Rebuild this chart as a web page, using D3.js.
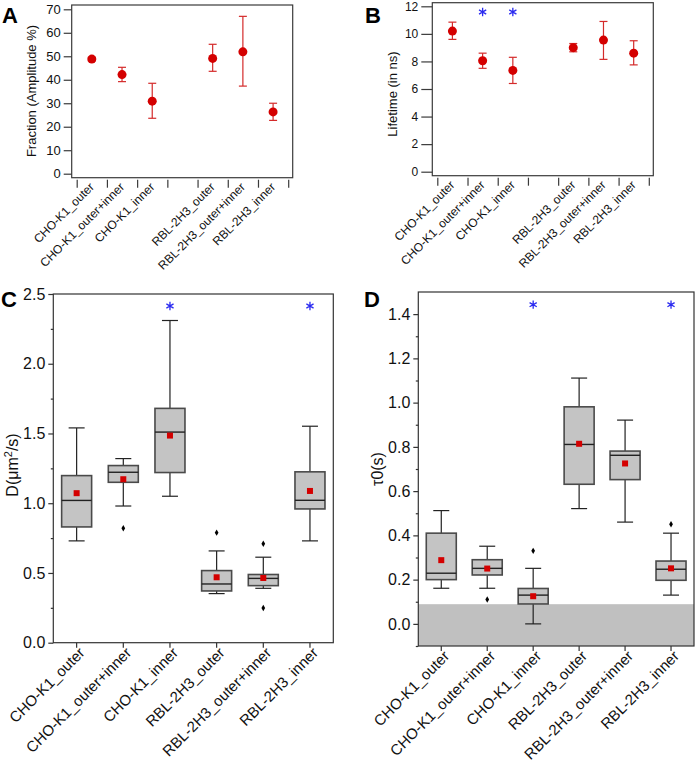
<!DOCTYPE html>
<html>
<head>
<meta charset="utf-8">
<script src="https://cdn.jsdelivr.net/npm/d3@7"></script>
<style>
  html, body { margin: 0; padding: 0; background: #fff; }
  svg { display: block; font-family: "Liberation Sans", Arial, sans-serif; }
</style>
</head>
<body>
<svg id="chart" width="697" height="770"></svg>
<script>
// ---------------- DATA ----------------
const categories = ["CHO-K1_outer", "CHO-K1_outer+inner", "CHO-K1_inner",
                    "RBL-2H3_outer", "RBL-2H3_outer+inner", "RBL-2H3_inner"];

// Panel A: Fraction (Amplitude %)
const fracMean = [48.8, 42.2, 30.9, 49.1, 51.9, 26.3];
const fracLow  = [48.0, 39.2, 23.6, 43.6, 37.3, 22.7];
const fracHigh = [49.6, 45.3, 38.5, 55.1, 67.0, 30.0];
const fracTicks = [0, 10, 20, 30, 40, 50, 60, 70];

// Panel B: Lifetime (in ns)
const lifeMean = [10.2, 8.05, 7.35, 9.0, 9.55, 8.6];
const lifeLow  = [9.6, 7.5, 6.4, 8.7, 8.15, 7.75];
const lifeHigh = [10.85, 8.6, 8.3, 9.3, 10.9, 9.5];
const lifeTicks = [0, 2, 4, 6, 8, 10, 12];
const lifeStars = ["CHO-K1_outer+inner", "CHO-K1_inner"];

// Panel C: D (um^2/s) box plots
const dWhiskLow  = [0.73, 0.98, 1.05, 0.352, 0.39, 0.73];
const dQ1        = [0.83, 1.15, 1.22, 0.371, 0.409, 0.959];
const dMedian    = [1.02, 1.222, 1.51, 0.421, 0.461, 1.021];
const dQ3        = [1.198, 1.27, 1.68, 0.517, 0.489, 1.225];
const dWhiskHigh = [1.54, 1.32, 2.31, 0.658, 0.613, 1.552];
const dMean      = [1.072, 1.172, 1.485, 0.469, 0.464, 1.088];
const dOutliers  = [[], [0.82], [], [0.789], [0.71, 0.249], []];
const dTicks = [0.0, 0.5, 1.0, 1.5, 2.0, 2.5];
const dStars = ["CHO-K1_inner", "RBL-2H3_inner"];

// Panel D: tau0 (s) box plots
const tWhiskLow  = [0.161, 0.161, 0.0, 0.521, 0.46, 0.13];
const tQ1        = [0.2, 0.221, 0.09, 0.631, 0.652, 0.197];
const tMedian    = [0.229, 0.251, 0.13, 0.811, 0.762, 0.247];
const tQ3        = [0.41, 0.29, 0.16, 0.981, 0.781, 0.284];
const tWhiskHigh = [0.512, 0.351, 0.251, 1.111, 0.921, 0.41];
const tMean      = [0.288, 0.25, 0.125, 0.814, 0.725, 0.251];
const tOutliers  = [[], [0.11], [0.33], [], [], [0.45]];
const tTicks = [0.0, 0.2, 0.4, 0.6, 0.8, 1.0, 1.2, 1.4];
const tBand = [-0.1, 0.089];
const tStars = ["CHO-K1_inner", "RBL-2H3_inner"];

// ---------------- DRAWING ----------------
const svg = d3.select("#chart");
const RED = "#d40000", RED_ERR = "#d42a2a", BLUE = "#2a2af0";

function star(g, x, y) {
  g.append("path")
    .attr("transform", `translate(${x},${y})`)
    .attr("d", d3.symbol(d3.symbolAsterisk, 48)())
    .attr("fill", "none").attr("stroke", BLUE).attr("stroke-width", 1.3);
}

// ---- Error-bar panels (A, B) ----
function errorPanel(opt) {
  const g = svg.append("g");
  const { left, right, top, bottom } = opt;
  // slots: 7 slots with an empty one between cell lines
  const slotOf = i => (i < 3 ? i : i + 1);
  const x = d3.scaleLinear().domain([0, 7]).range([left + 5, right - 4.5]);
  const y = d3.scaleLinear().domain(opt.domain).range([opt.y0, opt.yTop]);

  g.append("rect").attr("x", left).attr("y", top)
    .attr("width", right - left).attr("height", bottom - top)
    .attr("fill", "none").attr("stroke", "#3a3a3a").attr("stroke-width", 1.2);

  // y axis
  const ya = g.append("g").attr("transform", `translate(${left},0)`)
    .call(d3.axisLeft(y).tickValues(opt.ticks).tickSize(opt.tickLen).tickPadding(3).tickFormat(d3.format("d")));
  ya.select(".domain").remove();
  ya.selectAll("line").attr("stroke", "#3a3a3a").attr("stroke-width", 1.2);
  ya.selectAll("text").attr("font-size", opt.tickFont).attr("fill", "#111")
    .attr("font-family", "Liberation Sans, Arial, sans-serif");

  // x ticks at slot boundaries
  const xa = g.append("g").attr("transform", `translate(0,${bottom + 2})`)
    .call(d3.axisBottom(x).tickValues(d3.range(0, 8)).tickSize(8).tickFormat(""));
  xa.select(".domain").remove();
  xa.selectAll("line").attr("stroke", "#3a3a3a").attr("stroke-width", 1.2);

  // x labels
  categories.forEach((c, i) => {
    const cx = x(slotOf(i) + 0.5);
    g.append("text")
      .attr("transform", `translate(${cx + 3},${bottom + 10}) rotate(-45)`)
      .attr("text-anchor", "end").attr("font-size", 12).attr("fill", "#111")
      .text(c);
  });

  // error bars + points
  categories.forEach((c, i) => {
    const cx = x(slotOf(i) + 0.5);
    const lo = y(opt.low[i]), hi = y(opt.high[i]);
    g.append("line").attr("x1", cx).attr("x2", cx).attr("y1", lo).attr("y2", hi)
      .attr("stroke", RED_ERR).attr("stroke-width", 1.2);
    [lo, hi].forEach(v => g.append("line").attr("x1", cx - 4).attr("x2", cx + 4)
      .attr("y1", v).attr("y2", v).attr("stroke", RED_ERR).attr("stroke-width", 1.2));
    g.append("circle").attr("cx", cx).attr("cy", y(opt.mean[i])).attr("r", 4.5).attr("fill", RED);
  });

  (opt.stars || []).forEach(s => {
    const i = categories.indexOf(s);
    star(g, x(slotOf(i) + 0.5), opt.starY);
  });

  // y label
  g.append("text")
    .attr("transform", `translate(${opt.labelX},${opt.labelY}) rotate(-90)`)
    .attr("text-anchor", "middle").attr("font-size", 13).attr("fill", "#111")
    .text(opt.yLabel);
  // panel letter
  g.append("text").attr("x", opt.letterX).attr("y", opt.letterY)
    .attr("font-size", 22).attr("font-weight", "bold").attr("fill", "#000")
    .text(opt.letter);
}

errorPanel({
  left: 71.7, right: 292.7, top: 5, bottom: 177.7,
  domain: [0, 70], y0: 173.7, yTop: 9.3, ticks: fracTicks, tickLen: 8, tickFont: 13,
  mean: fracMean, low: fracLow, high: fracHigh,
  yLabel: "Fraction (Amplitude %)", labelX: 36, labelY: 91,
  letter: "A", letterX: 2, letterY: 23
});

errorPanel({
  left: 432.3, right: 653.3, top: 2.7, bottom: 175.7,
  domain: [0, 12], y0: 171.7, yTop: 6.3, ticks: lifeTicks, tickLen: 11, tickFont: 12,
  mean: lifeMean, low: lifeLow, high: lifeHigh, stars: lifeStars, starY: 12,
  yLabel: "Lifetime (in ns)", labelX: 397, labelY: 94,
  letter: "B", letterX: 365, letterY: 23
});

// ---- Box-plot panels (C, D) ----
function boxPanel(opt) {
  const g = svg.append("g");
  const { left, right, top, bottom } = opt;
  const x = d3.scaleBand().domain(categories).range([left, right]).padding(0);
  const y = d3.scaleLinear().domain(opt.domain).range([bottom, top]);
  const bw = 30, cap = 16;
  const cx = c => x(c) + x.bandwidth() / 2;

  if (opt.band) {
    g.append("rect").attr("x", left).attr("width", right - left)
      .attr("y", y(opt.band[1])).attr("height", y(opt.band[0]) - y(opt.band[1]))
      .attr("fill", "#c0c0c0");
  }

  g.append("rect").attr("x", left).attr("y", top)
    .attr("width", right - left).attr("height", bottom - top)
    .attr("fill", "none").attr("stroke", "#333").attr("stroke-width", 1.2);

  // y axis major
  const ya = g.append("g").attr("transform", `translate(${left},0)`)
    .call(d3.axisLeft(y).tickValues(opt.ticks).tickSize(5).tickPadding(3).tickFormat(d3.format(".1f")));
  ya.select(".domain").remove();
  ya.selectAll("line").attr("stroke", "#333").attr("stroke-width", 1.2);
  ya.selectAll("text").attr("font-size", 16).attr("fill", "#111")
    .attr("font-family", "Liberation Sans, Arial, sans-serif");
  // minor ticks
  const ym = g.append("g").attr("transform", `translate(${left},0)`)
    .call(d3.axisLeft(y).tickValues(opt.minor).tickSize(2.5).tickFormat(""));
  ym.select(".domain").remove();
  ym.selectAll("line").attr("stroke", "#333").attr("stroke-width", 1.2);

  // x axis
  const xa = g.append("g").attr("transform", `translate(0,${bottom})`)
    .call(d3.axisBottom(x).tickSize(5).tickFormat(""));
  xa.select(".domain").remove();
  xa.selectAll("line").attr("stroke", "#333").attr("stroke-width", 1.2);
  categories.forEach(c => {
    g.append("text")
      .attr("transform", `translate(${cx(c) + 9},${bottom + 11}) rotate(-45)`)
      .attr("text-anchor", "end").attr("font-size", 15).attr("fill", "#111")
      .text(c);
  });

  categories.forEach((c, i) => {
    const X = cx(c);
    const wl = y(opt.wlo[i]), wh = y(opt.whi[i]), q1 = y(opt.q1[i]), q3 = y(opt.q3[i]);
    // whiskers
    g.append("line").attr("x1", X).attr("x2", X).attr("y1", wh).attr("y2", q3)
      .attr("stroke", "#222").attr("stroke-width", 1.2);
    g.append("line").attr("x1", X).attr("x2", X).attr("y1", q1).attr("y2", wl)
      .attr("stroke", "#222").attr("stroke-width", 1.2);
    [wl, wh].forEach(v => g.append("line").attr("x1", X - cap / 2).attr("x2", X + cap / 2)
      .attr("y1", v).attr("y2", v).attr("stroke", "#222").attr("stroke-width", 1.2));
    // box
    g.append("rect").attr("x", X - bw / 2).attr("width", bw)
      .attr("y", q3).attr("height", q1 - q3)
      .attr("fill", "#c4c4c4").attr("stroke", "#4a4a4a").attr("stroke-width", 1.6);
    g.append("line").attr("x1", X - bw / 2).attr("x2", X + bw / 2)
      .attr("y1", y(opt.med[i])).attr("y2", y(opt.med[i]))
      .attr("stroke", "#222").attr("stroke-width", 1.4);
    // mean
    g.append("rect").attr("x", X - 3).attr("y", y(opt.mean[i]) - 3)
      .attr("width", 6).attr("height", 6).attr("fill", RED);
    // outliers
    opt.out[i].forEach(v => g.append("path")
      .attr("transform", `translate(${X},${y(v)})`)
      .attr("d", d3.symbol(d3.symbolDiamond, 12)()).attr("fill", "#000"));
  });

  opt.stars.forEach(s => star(g, cx(s), opt.starY));

  g.append("text")
    .attr("transform", `translate(${opt.labelX},${opt.labelY}) rotate(-90)`)
    .attr("text-anchor", "middle").attr("font-size", 16).attr("fill", "#111")
    .call(t => opt.yLabel(t));
  g.append("text").attr("x", opt.letterX).attr("y", opt.letterY)
    .attr("font-size", 22).attr("font-weight", "bold").attr("fill", "#000")
    .text(opt.letter);
}

boxPanel({
  left: 53.3, right: 333.3, top: 294, bottom: 642.7,
  domain: [0, 2.5], ticks: dTicks, minor: d3.range(0.25, 2.5, 0.5),
  wlo: dWhiskLow, q1: dQ1, med: dMedian, q3: dQ3, whi: dWhiskHigh, mean: dMean, out: dOutliers,
  stars: dStars, starY: 306,
  labelX: 18, labelY: 465,
  yLabel: t => {
    t.append("tspan").text("D(\u03bcm");
    t.append("tspan").attr("font-size", 11).attr("dy", -6).text("2");
    t.append("tspan").attr("dy", 6).text("/s)");
  },
  letter: "C", letterX: 1, letterY: 307
});

boxPanel({
  left: 418.3, right: 694, top: 292, bottom: 646,
  domain: [-0.1, 1.5], ticks: tTicks, minor: d3.range(0.1, 1.5, 0.2).concat([-0.1]),
  wlo: tWhiskLow, q1: tQ1, med: tMedian, q3: tQ3, whi: tWhiskHigh, mean: tMean, out: tOutliers,
  band: tBand, stars: tStars, starY: 304.7,
  labelX: 383, labelY: 469,
  yLabel: t => t.text("\u03c40(s)"),
  letter: "D", letterX: 364, letterY: 307
});
</script>
</body>
</html>
